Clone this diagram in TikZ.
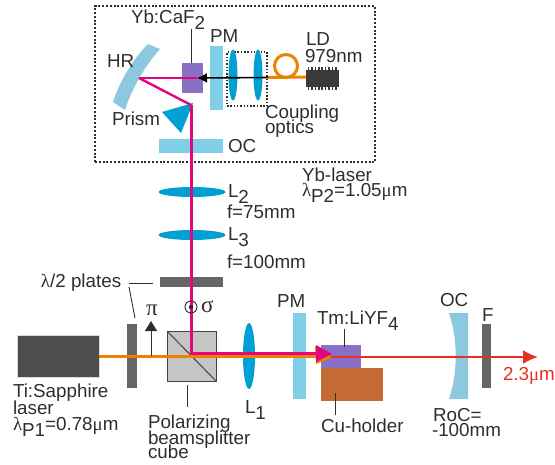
\documentclass[tikz,border=0pt]{standalone}
\usepackage{fontspec}
\setmainfont{Liberation Sans}
\newfontfamily\gk{Liberation Serif}
\usetikzlibrary{arrows.meta,calc,shapes.geometric}
\definecolor{txt}{HTML}{2E2E2E}
\definecolor{pale}{HTML}{80CFE8}
\definecolor{hrb}{HTML}{8CC8E0}
\definecolor{lensb}{HTML}{00A0D2}
\definecolor{purp}{HTML}{8A70C4}
\definecolor{cuh}{HTML}{C46A35}
\definecolor{dark}{HTML}{444444}
\definecolor{plate}{HTML}{666666}
\definecolor{cubeg}{HTML}{C4C6C4}
\definecolor{mag}{HTML}{E3067F}
\definecolor{org}{HTML}{F08000}
\definecolor{redb}{HTML}{E53022}
\newcommand{\lowr}[1]{\raisebox{-0.33em}{#1}}
\newcommand{\gl}{{\gk λ}}
\newcommand{\gm}{{\gk μ}}
\newcommand{\blk}[6]{%
  \pgfmathsetmacro{\cxx}{(#3+#5)/2}\pgfmathsetmacro{\cyy}{(#4+#6)/2}%
  \pgfmathsetmacro{\wdd}{#5-#3}\pgfmathsetmacro{\htt}{#6-#4}%
  \node[blkbase,#2,minimum width=\wdd pt,minimum height=\htt pt] (#1) at (\cxx,\cyy) {};}
\tikzset{
  blkbase/.style={rectangle,inner sep=0pt,outer sep=0pt},
  lbl/.style={anchor=base west,inner sep=0pt,outer sep=0pt,text=txt,font=\fontsize{18.8}{18.8}\selectfont},
  paleb/.style={fill=pale},
  plateb/.style={fill=plate},
  lensn/.style={ellipse,fill=lensb,inner sep=0pt,outer sep=0pt},
  leader/.style={draw=txt,line width=0.9pt},
  magb/.style={draw=mag,line width=3pt},
  orgb/.style={draw=org,line width=3pt},
}
\begin{document}
\begin{tikzpicture}[x=1pt,y=-1pt]
\useasboundingbox (0,0) rectangle (555,464);
% dashed enclosure
\blk{ybbox}{draw=txt,line width=1.2pt,dash pattern=on 2pt off 1.8pt}{95}{6}{375}{162}
% HR
\fill[hrb] (148,44) .. controls (134,58) and (120,80) .. (113,102) -- (125,110) .. controls (132,88) and (145,66) .. (160,49) -- cycle;
% Yb crystal and optics
\blk{ybcrystal}{fill=purp}{182}{63}{203}{93}
\blk{pma}{paleb}{210}{46}{223}{110}
\blk{ocoup}{draw=txt,line width=1.2pt,dash pattern=on 1.5pt off 1.8pt}{227}{52}{267}{106}
\node[lensn,minimum width=9pt,minimum height=51pt] (lensa) at (233,75) {};
\node[lensn,minimum width=9pt,minimum height=51pt] (lensb1) at (258,75) {};
\blk{oca}{paleb}{159}{139}{223}{153}
% prism
\fill[lensb] (162,112) -- (193,103) -- (181,133) -- cycle;
% fibre
\coordinate (fibreend) at (306,77);
\coordinate (fibrein) at (268,77.5);
\draw[org,line width=3pt] (fibrein) -- (fibreend);
\draw[org,line width=3pt] (286,66) circle (11.5);
% LD
\foreach \i in {0,...,8}{
  \fill[dark!85!black] ({308.5+\i*3.4-0.8},67) rectangle ++(1.6,23);
}
\blk{ld}{fill=dark!85!black}{306}{70}{339}{87}
% pump beam Yb
\coordinate (hrpt) at (139,78);
\coordinate (prpt) at (191,105);
\coordinate (cubec) at (191,353);
\coordinate (ldhead) at (197,78);
\draw[mag,line width=2pt] (ldhead) -- (hrpt);
\draw[mag,line width=2.4pt] (hrpt) -- (prpt);
\draw[black,line width=1.6pt,-{Latex[length=10pt,width=10pt]}] (fibrein) -- (ldhead);
% L2 L3 plate
\node[lensn,minimum width=67pt,minimum height=10pt] (ltwo) at (192,192) {};
\node[lensn,minimum width=67pt,minimum height=10pt] (lthree) at (192,235) {};
\blk{platea}{plateb}{160}{277}{223}{287}
% Ti:Sa
\blk{tisa}{fill=dark!95!white,draw=white!85!black,line width=0.4pt}{17}{335}{99}{377}
\blk{plateb1}{plateb}{127}{324}{137}{388}
\blk{cube}{fill=cubeg,draw=dark,line width=1pt}{167}{331}{216}{381}
\draw[dark,line width=1pt] (cube.north west) -- (cube.south east);
\node[lensn,minimum width=12pt,minimum height=66pt] (lone) at (249,356) {};
% main cavity
\blk{pmb}{paleb}{293}{313}{306}{399}
\blk{tm}{fill=purp}{321}{345}{361}{368}
\blk{cu}{fill=cuh}{321}{368}{383}{401}
\fill[hrb] (449,313) -- (468,313) -- (468,399) -- (449,399) .. controls (458,372) and (458,340) .. (449,313) -- cycle;
\blk{filt}{plateb}{482}{324}{491}{388}
% beams
\coordinate (orgend) at (330,356);
\draw[orgb] (tisa.east |- orgend) -- (orgend);
\fill[org] (315,346) -- (333,357) -- (316,364) -- cycle;
\draw[magb] (prpt) -- (cubec) -- (318,353);
\fill[mag] (316,345) -- (332,354) -- (316,362) -- cycle;
\coordinate (redstart) at (331,357);
\coordinate (redend) at (538,357);
\draw[redb,line width=2pt,-{Latex[length=15pt,width=14pt]}] (redstart) -- (redend);
% polarisation marks
\coordinate (pibase) at (151,356);
\coordinate (pitop) at (151,321);
\draw[txt,line width=1pt,-{Triangle[length=10pt,width=12pt]}] (pibase) -- (pitop);
\node[circle,draw=txt,line width=0.9pt,minimum size=12pt,inner sep=0pt] (sigmac) at (191,307) {};
\fill[txt] (sigmac) circle (2.2);
% leaders
\coordinate (yba) at (191,29); \coordinate (ybb) at (191,63);
\draw[leader] (yba) -- (ybb);
\coordinate (lpa) at (129,283); \coordinate (lpb) at (153,283);
\coordinate (lpc) at (129,287); \coordinate (lpd) at (135,318);
\draw[leader] (lpa) -- (lpb);
\draw[leader] (lpc) -- (lpd);
\coordinate (cba) at (187,385); \coordinate (cbb) at (187,407);
\draw[leader] (cba) -- (cbb);
\coordinate (tma) at (344,329); \coordinate (tmb) at (344,347);
\draw[leader] (tma) -- (tmb);
\coordinate (cua) at (335,393); \coordinate (cub) at (335,415);
\draw[leader] (cua) -- (cub);
% labels
\node[lbl] (t1) at (131,23) {Yb:CaF\lowr{2}};
\node[lbl] (t2) at (210,42) {PM};
\node[lbl] (t3) at (107,67) {HR};
\node[lbl] (t4) at (306,45) {LD};
\node[lbl] (t5) at (305,62) {979nm};
\node[lbl] (t6) at (265,118) {Coupling};
\node[lbl] (t7) at (265,133) {optics};
\node[lbl] (t8) at (112,125) {Prism};
\node[lbl] (t9) at (228,152) {OC};
\node[lbl] (t10) at (302,181) {Yb-laser};
\node[lbl] (t11) at (302,196) {\gl\lowr{P2}=1.05\gm m};
\node[lbl] (t12) at (228,197) {L\lowr{2}};
\node[lbl] (t13) at (227,218) {f=75mm};
\node[lbl] (t14) at (228,240) {L\lowr{3}};
\node[lbl] (t15) at (227,268) {f=100mm};
\node[lbl] (t16) at (41,287) {\gl/2 plates};
\node[lbl,font=\fontsize{23}{23}\selectfont\gk] (t17) at (146,315) {π};
\node[lbl,font=\fontsize{23}{23}\selectfont\gk] (t18) at (201,312) {σ};
\node[lbl] (t19) at (13,397) {Ti:Sapphire};
\node[lbl] (t20) at (13,414) {laser};
\node[lbl] (t21) at (13,430) {\gl\lowr{P1}=0.78\gm m};
\node[lbl] (t22) at (245,413) {L\lowr{1}};
\node[lbl] (t23) at (148,428) {Polarizing};
\node[lbl] (t24) at (148,444) {beamsplitter};
\node[lbl] (t25) at (148,458) {cube};
\node[lbl] (t26) at (277,307) {PM};
\node[lbl] (t27) at (317,324) {Tm:LiYF\lowr{4}};
\node[lbl] (t28) at (440,306) {OC};
\node[lbl] (t29) at (482,321) {F};
\node[lbl,text=redb] (t30) at (503,380) {2.3\gm m};
\node[lbl] (t31) at (321,432) {Cu-holder};
\node[lbl] (t32) at (433,421) {RoC=};
\node[lbl] (t33) at (432,436) {-100mm};
\end{tikzpicture}
\end{document}
